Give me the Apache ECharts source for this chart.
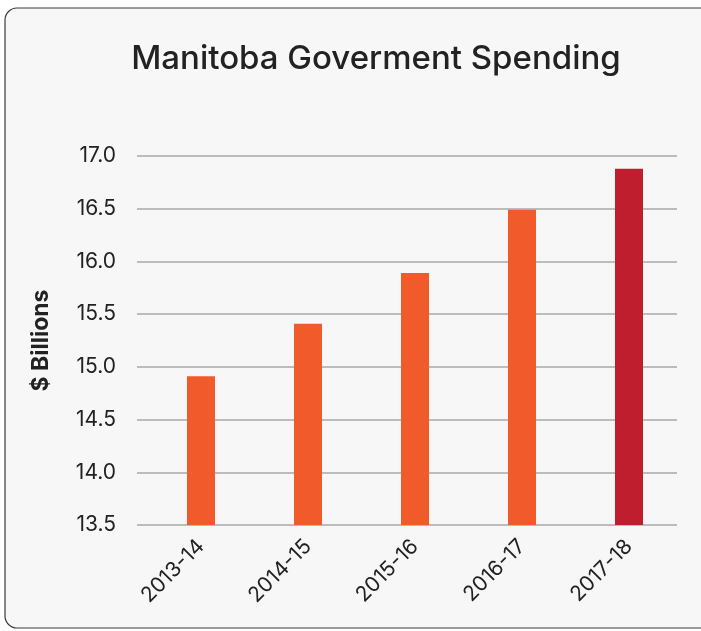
<!DOCTYPE html>
<html>
<head>
<meta charset="utf-8">
<script src="https://cdn.jsdelivr.net/npm/echarts@6/dist/echarts.min.js"></script>
<style>
  html, body { margin: 0; padding: 0; background: #ffffff; }
  #main { width: 701px; height: 631px; }
</style>
</head>
<body>
<div id="main"></div>
<script>
// 数据
const years = ['2013-14', '2014-15', '2015-16', '2016-17', '2017-18']
const spending = [14.91, 15.41, 15.89, 16.49, 16.88]
const barColors = ['#f15a2b', '#f15a2b', '#f15a2b', '#f15a2b', '#be1e2d']
const yMin = 13.5
const yMax = 17
const yStep = 0.5

const myChart = echarts.init(document.getElementById('main'))

const font = 'Inter, "Open Sans", sans-serif'

const option = {
  animation: false,
  backgroundColor: '#ffffff',
  graphic: [
    {
      type: 'rect',
      z: -10,
      silent: true,
      shape: { x: 5, y: 8, width: 740, height: 620, r: 12 },
      style: { fill: '#f7f7f7', stroke: '#3a3a3a', lineWidth: 1.2 }
    }
  ],
  title: {
    text: 'Manitoba Goverment Spending',
    left: 371,
    textAlign: 'center',
    top: 38,
    textStyle: { fontFamily: font, fontSize: 33, fontWeight: 500, color: '#222222' }
  },
  grid: [
    // 网格线
    { left: 137, right: 24, top: 156, bottom: 106 },
    // 柱子
    { left: 147.5, right: 18.5, top: 156, bottom: 106 }
  ],
  xAxis: [
    { type: 'category', gridIndex: 0, data: years, show: false },
    {
      type: 'category',
      gridIndex: 1,
      data: years,
      axisLine: { show: false },
      axisTick: { show: false },
      axisLabel: {
        rotate: 45,
        margin: 18,
        fontFamily: font,
        fontSize: 21,
        color: '#222222'
      }
    }
  ],
  yAxis: [
    {
      type: 'value',
      gridIndex: 0,
      min: yMin,
      max: yMax,
      interval: yStep,
      name: '$ Billions',
      nameLocation: 'middle',
      nameGap: 84,
      nameTextStyle: { fontFamily: font, fontSize: 23, fontWeight: 'bold', color: '#222222' },
      axisLine: { show: false },
      axisTick: { show: false },
      axisLabel: {
        margin: 21,
        fontFamily: font,
        fontSize: 21,
        color: '#222222',
        formatter: v => v.toFixed(1)
      },
      splitLine: { show: true, lineStyle: { color: '#a9a9a9', width: 1.5 } }
    },
    {
      type: 'value',
      gridIndex: 1,
      min: yMin,
      max: yMax,
      interval: yStep,
      show: false,
      splitLine: { show: false }
    }
  ],
  series: [
    {
      type: 'bar',
      xAxisIndex: 1,
      yAxisIndex: 1,
      barWidth: 28,
      data: spending.map((v, i) => ({ value: v, itemStyle: { color: barColors[i] } }))
    }
  ]
}

myChart.setOption(option)
</script>
</body>
</html>
